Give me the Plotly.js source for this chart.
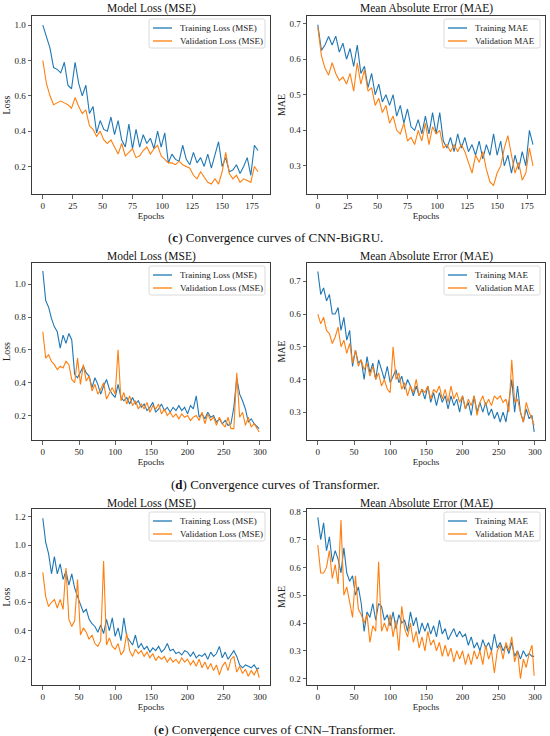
<!DOCTYPE html>
<html>
<head>
<meta charset="utf-8">
<script src="https://cdn.plot.ly/plotly-3.0.1.min.js"></script>
<style>html,body{margin:0;padding:0;background:#fff;}#chart{width:550px;height:736px;}</style>
</head>
<body>
<div id="chart"></div>
<script>
// ---------- epochs (x categories) ----------
const epochsC = [0,3,6,9,12,15,18,21,24,27,30,33,36,39,42,45,48,51,54,57,60,63,66,69,72,75,78,81,84,87,90,93,96,99,102,105,108,111,114,117,120,123,126,129,132,135,138,141,144,147,150,153,156,159,162,165,168,171,174,177,180];
const epochsT = [0,4,8,12,16,20,24,28,32,36,40,44,48,52,56,60,64,68,72,76,80,84,88,92,96,100,104,108,112,116,120,124,128,132,136,140,144,148,152,156,160,164,168,172,176,180,184,188,192,196,200,204,208,212,216,220,224,228,232,236,240,244,248,252,256,260,264,268,272,276,280,284,288,292,296,299];

// ---------- (c) CNN-BiGRU ----------
const bigruTrainLoss = [1.00,0.93,0.87,0.76,0.75,0.73,0.79,0.66,0.64,0.79,0.67,0.60,0.66,0.50,0.54,0.39,0.46,0.41,0.40,0.48,0.38,0.46,0.35,0.31,0.44,0.30,0.41,0.31,0.38,0.33,0.36,0.30,0.40,0.31,0.39,0.22,0.27,0.24,0.23,0.32,0.24,0.21,0.28,0.22,0.25,0.20,0.27,0.19,0.27,0.34,0.20,0.25,0.17,0.18,0.21,0.16,0.20,0.25,0.15,0.32,0.29];
const bigruValLoss = [0.80,0.67,0.60,0.55,0.56,0.57,0.56,0.55,0.53,0.59,0.54,0.50,0.52,0.43,0.41,0.37,0.40,0.35,0.33,0.35,0.31,0.27,0.33,0.26,0.28,0.30,0.25,0.26,0.29,0.31,0.27,0.30,0.32,0.26,0.24,0.22,0.22,0.21,0.23,0.21,0.20,0.19,0.15,0.13,0.17,0.14,0.11,0.10,0.13,0.10,0.17,0.28,0.16,0.13,0.15,0.11,0.13,0.12,0.11,0.20,0.17];
const bigruTrainMAE = [0.697,0.625,0.64,0.664,0.64,0.665,0.62,0.645,0.60,0.63,0.58,0.64,0.56,0.58,0.52,0.56,0.50,0.53,0.48,0.50,0.47,0.50,0.44,0.47,0.42,0.46,0.41,0.40,0.43,0.39,0.44,0.39,0.45,0.39,0.45,0.37,0.35,0.38,0.34,0.39,0.35,0.38,0.34,0.36,0.33,0.37,0.32,0.36,0.33,0.39,0.33,0.37,0.30,0.33,0.28,0.33,0.29,0.34,0.30,0.40,0.36];
const bigruValMAE = [0.69,0.61,0.575,0.555,0.59,0.56,0.54,0.55,0.53,0.56,0.51,0.59,0.53,0.57,0.51,0.52,0.47,0.49,0.45,0.47,0.42,0.44,0.40,0.39,0.42,0.37,0.38,0.36,0.40,0.37,0.42,0.36,0.41,0.39,0.40,0.35,0.36,0.34,0.36,0.34,0.36,0.34,0.31,0.28,0.33,0.31,0.34,0.29,0.255,0.245,0.28,0.30,0.35,0.385,0.33,0.28,0.31,0.26,0.28,0.35,0.30];

// ---------- (d) Transformer ----------
const transTrainLoss = [1.08,0.90,0.86,0.79,0.74,0.71,0.61,0.69,0.64,0.70,0.66,0.45,0.43,0.47,0.50,0.46,0.44,0.37,0.43,0.39,0.33,0.38,0.42,0.36,0.33,0.31,0.39,0.31,0.29,0.31,0.27,0.31,0.27,0.29,0.25,0.27,0.23,0.25,0.28,0.22,0.24,0.27,0.23,0.25,0.22,0.25,0.23,0.26,0.23,0.25,0.21,0.26,0.24,0.32,0.19,0.21,0.18,0.22,0.19,0.20,0.16,0.18,0.15,0.17,0.14,0.15,0.25,0.43,0.33,0.29,0.24,0.16,0.18,0.15,0.13,0.12];
const transValLoss = [0.71,0.55,0.57,0.53,0.51,0.48,0.50,0.49,0.53,0.51,0.42,0.40,0.55,0.39,0.51,0.41,0.44,0.35,0.39,0.33,0.36,0.40,0.30,0.34,0.37,0.33,0.60,0.29,0.34,0.27,0.32,0.26,0.29,0.24,0.27,0.24,0.28,0.22,0.26,0.24,0.27,0.21,0.24,0.20,0.22,0.19,0.21,0.18,0.21,0.19,0.20,0.17,0.19,0.20,0.17,0.22,0.15,0.21,0.17,0.19,0.14,0.19,0.15,0.13,0.19,0.12,0.12,0.46,0.19,0.22,0.14,0.19,0.13,0.15,0.12,0.10];
const transTrainMAE = [0.73,0.66,0.68,0.64,0.66,0.60,0.60,0.62,0.55,0.59,0.52,0.55,0.44,0.49,0.45,0.46,0.40,0.47,0.42,0.45,0.40,0.46,0.43,0.40,0.44,0.39,0.41,0.43,0.39,0.41,0.37,0.40,0.38,0.35,0.38,0.35,0.37,0.34,0.38,0.33,0.36,0.32,0.36,0.33,0.35,0.31,0.35,0.32,0.34,0.30,0.35,0.31,0.33,0.29,0.35,0.30,0.33,0.30,0.33,0.29,0.31,0.28,0.30,0.27,0.30,0.27,0.33,0.40,0.30,0.38,0.30,0.27,0.31,0.28,0.29,0.24];
const transValMAE = [0.60,0.57,0.59,0.55,0.54,0.51,0.53,0.56,0.50,0.52,0.48,0.51,0.45,0.49,0.44,0.46,0.43,0.45,0.41,0.44,0.40,0.42,0.38,0.40,0.37,0.36,0.50,0.40,0.42,0.37,0.39,0.35,0.38,0.36,0.40,0.35,0.37,0.36,0.38,0.34,0.37,0.36,0.38,0.34,0.37,0.33,0.38,0.34,0.36,0.33,0.35,0.31,0.34,0.32,0.35,0.29,0.33,0.35,0.32,0.34,0.32,0.35,0.34,0.35,0.33,0.34,0.30,0.46,0.33,0.34,0.30,0.27,0.33,0.30,0.28,0.26];

// ---------- (e) CNN–Transformer ----------
const cnnTransTrainLoss = [1.19,1.02,0.94,0.80,0.92,0.80,0.87,0.76,0.82,0.72,0.80,0.70,0.64,0.58,0.53,0.55,0.48,0.45,0.43,0.39,0.44,0.38,0.48,0.40,0.49,0.36,0.42,0.33,0.49,0.36,0.33,0.30,0.37,0.28,0.31,0.27,0.29,0.25,0.28,0.26,0.29,0.25,0.27,0.31,0.26,0.27,0.24,0.25,0.23,0.26,0.25,0.22,0.25,0.21,0.23,0.22,0.24,0.20,0.25,0.22,0.24,0.29,0.21,0.25,0.20,0.23,0.26,0.22,0.16,0.14,0.16,0.15,0.14,0.16,0.13,0.14];
const cnnTransValLoss = [0.81,0.64,0.57,0.60,0.62,0.56,0.62,0.55,0.84,0.48,0.43,0.47,0.76,0.37,0.42,0.39,0.34,0.37,0.31,0.29,0.33,0.89,0.30,0.35,0.29,0.27,0.31,0.23,0.26,0.38,0.26,0.22,0.27,0.24,0.26,0.22,0.25,0.21,0.24,0.19,0.22,0.20,0.22,0.18,0.21,0.18,0.20,0.17,0.21,0.18,0.20,0.16,0.19,0.15,0.20,0.14,0.18,0.13,0.17,0.12,0.16,0.09,0.15,0.18,0.12,0.20,0.22,0.11,0.15,0.10,0.13,0.08,0.12,0.09,0.13,0.07];
const cnnTransTrainMAE = [0.78,0.70,0.76,0.66,0.71,0.62,0.66,0.63,0.58,0.67,0.58,0.55,0.57,0.50,0.53,0.47,0.37,0.44,0.42,0.47,0.41,0.47,0.46,0.41,0.43,0.39,0.44,0.38,0.43,0.40,0.41,0.37,0.44,0.39,0.42,0.36,0.40,0.37,0.40,0.36,0.39,0.35,0.41,0.36,0.38,0.34,0.36,0.38,0.35,0.37,0.35,0.36,0.32,0.35,0.31,0.33,0.30,0.34,0.31,0.33,0.30,0.36,0.31,0.33,0.30,0.32,0.29,0.33,0.28,0.30,0.27,0.30,0.28,0.29,0.28,0.28];
const cnnTransValMAE = [0.68,0.58,0.58,0.60,0.66,0.56,0.61,0.54,0.77,0.50,0.53,0.47,0.42,0.57,0.45,0.43,0.40,0.43,0.33,0.39,0.37,0.62,0.37,0.40,0.37,0.43,0.35,0.41,0.30,0.46,0.38,0.35,0.40,0.33,0.37,0.31,0.35,0.30,0.37,0.32,0.34,0.30,0.33,0.28,0.32,0.28,0.31,0.26,0.30,0.27,0.30,0.25,0.29,0.25,0.30,0.27,0.30,0.25,0.32,0.27,0.30,0.22,0.30,0.32,0.27,0.33,0.30,0.35,0.26,0.30,0.20,0.27,0.24,0.29,0.32,0.21];

// ---------- texts ----------
const panelTitles = ["Model Loss (MSE)","Mean Absolute Error (MAE)","Model Loss (MSE)","Mean Absolute Error (MAE)","Model Loss (MSE)","Mean Absolute Error (MAE)"];
const yTitles = ["Loss","MAE","Loss","MAE","Loss","MAE"];
const legendNamesLoss = ["Training Loss (MSE)","Validation Loss (MSE)"];
const legendNamesMAE = ["Training MAE","Validation MAE"];
const captions = ["(<b>c</b>) Convergence curves of CNN-BiGRU.","(<b>d</b>) Convergence curves of Transformer.","(<b>e</b>) Convergence curves of CNN\u2013Transformer."];

// ---------- style / geometry ----------
const BLUE = "#1f77b4", ORANGE = "#ff7f0e";
const FONT = "Liberation Serif, Times New Roman, serif";
const W = 550, H = 736;
const colPx = [[32,270],[307,545]];
const rowPx = [[16,194],[263,440],[509,685]];
const titleY = [8,256,503];
const captionY = [237,485,729];

const panels = [
  {x:epochsC, tr:bigruTrainLoss, va:bigruValLoss, names:legendNamesLoss, legW:116, xr:[-9.05,190.05], yr:[0.044,1.052], xt:25, yt:[0.2,0.4,0.6,0.8,1.0]},
  {x:epochsC, tr:bigruTrainMAE, va:bigruValMAE, names:legendNamesMAE, legW:96, xr:[-9.05,190.05], yr:[0.221,0.7215], xt:25, yt:[0.3,0.4,0.5,0.6,0.7]},
  {x:epochsT, tr:transTrainLoss, va:transValLoss, names:legendNamesLoss, legW:116, xr:[-14.95,313.95], yr:[0.051,1.129], xt:50, yt:[0.2,0.4,0.6,0.8,1.0]},
  {x:epochsT, tr:transTrainMAE, va:transValMAE, names:legendNamesMAE, legW:96, xr:[-14.95,313.95], yr:[0.215,0.756], xt:50, yt:[0.3,0.4,0.5,0.6,0.7]},
  {x:epochsT, tr:cnnTransTrainLoss, va:cnnTransValLoss, names:legendNamesLoss, legW:116, xr:[-14.95,313.95], yr:[0.019,1.255], xt:50, yt:[0.2,0.4,0.6,0.8,1.0,1.2]},
  {x:epochsT, tr:cnnTransTrainMAE, va:cnnTransValMAE, names:legendNamesMAE, legW:96, xr:[-14.95,313.95], yr:[0.177,0.81], xt:50, yt:[0.2,0.3,0.4,0.5,0.6,0.7,0.8]}
];

const traces = [];
const layout = {
  width: W, height: H,
  margin: {l:0, r:0, t:0, b:0},
  paper_bgcolor: "#fff", plot_bgcolor: "#fff",
  showlegend: false,
  font: {family: FONT, color: "#222", size: 9},
  annotations: [],
  shapes: []
};
const px2x = v => v / W;
const px2y = v => 1 - v / H;

panels.forEach((p, i) => {
  const n = i + 1;
  const row = Math.floor(i / 2), col = i % 2;
  const xa = n === 1 ? "x" : "x" + n, ya = n === 1 ? "y" : "y" + n;
  const colors = [BLUE, ORANGE];
  traces.push({x:p.x, y:p.tr, xaxis:xa, yaxis:ya, type:"scatter", mode:"lines", name:p.names[0], line:{color:BLUE, width:1.1}});
  traces.push({x:p.x, y:p.va, xaxis:xa, yaxis:ya, type:"scatter", mode:"lines", name:p.names[1], line:{color:ORANGE, width:1.1}});
  const common = {showline:true, mirror:true, linecolor:"#3a3a3a", linewidth:1, ticks:"outside", ticklen:3.5, tickwidth:0.8, tickcolor:"#3a3a3a", showgrid:false, zeroline:false, tickfont:{family:FONT, size:9, color:"#222"}};
  layout[n === 1 ? "xaxis" : "xaxis" + n] = Object.assign({}, common, {
    domain:[px2x(colPx[col][0]), px2x(colPx[col][1])], anchor:ya, range:p.xr, dtick:p.xt, tick0:0,
    title:{text:"Epochs", font:{family:FONT, size:9, color:"#222"}, standoff:2}
  });
  layout[n === 1 ? "yaxis" : "yaxis" + n] = Object.assign({}, common, {
    domain:[px2y(rowPx[row][1]), px2y(rowPx[row][0])], anchor:xa, range:p.yr, tickvals:p.yt, tickformat:".1f",
    title:{text:yTitles[i], font:{family:FONT, size:10, color:"#222"}, standoff:1}
  });
  // panel title
  layout.annotations.push({xref:"paper", yref:"paper", x:px2x((colPx[col][0]+colPx[col][1])/2), y:px2y(titleY[row]), text:panelTitles[i], showarrow:false, xanchor:"center", yanchor:"middle", font:{family:FONT, size:11.5, color:"#111"}});
  // legend box (matplotlib style)
  const R = colPx[col][1] - 5, L = R - p.legW, T = rowPx[row][0] + 3, B = T + 29;
  const r = 2;
  layout.shapes.push({type:"path", xref:"paper", yref:"paper",
    path:`M ${px2x(L+r)} ${px2y(T)} L ${px2x(R-r)} ${px2y(T)} Q ${px2x(R)} ${px2y(T)} ${px2x(R)} ${px2y(T+r)} L ${px2x(R)} ${px2y(B-r)} Q ${px2x(R)} ${px2y(B)} ${px2x(R-r)} ${px2y(B)} L ${px2x(L+r)} ${px2y(B)} Q ${px2x(L)} ${px2y(B)} ${px2x(L)} ${px2y(B-r)} L ${px2x(L)} ${px2y(T+r)} Q ${px2x(L)} ${px2y(T)} ${px2x(L+r)} ${px2y(T)} Z`,
    line:{color:"#d0d0d0", width:0.8}, fillcolor:"rgba(255,255,255,0.85)", layer:"above"});
  [0,1].forEach(k => {
    const yy = T + 9 + k * 13;
    layout.shapes.push({type:"line", xref:"paper", yref:"paper", x0:px2x(L+4), x1:px2x(L+23), y0:px2y(yy), y1:px2y(yy), line:{color:colors[k], width:1.3}, layer:"above"});
    layout.annotations.push({xref:"paper", yref:"paper", x:px2x(L+29), y:px2y(yy), text:p.names[k], showarrow:false, xanchor:"left", yanchor:"middle", font:{family:FONT, size:9, color:"#222"}});
  });
});

captions.forEach((c, r) => {
  layout.annotations.push({xref:"paper", yref:"paper", x:0.5, y:px2y(captionY[r]), text:c, showarrow:false, xanchor:"center", yanchor:"middle", font:{family:FONT, size:13, color:"#111"}});
});

Plotly.newPlot("chart", traces, layout, {displayModeBar:false, staticPlot:true});
</script>
</body>
</html>
